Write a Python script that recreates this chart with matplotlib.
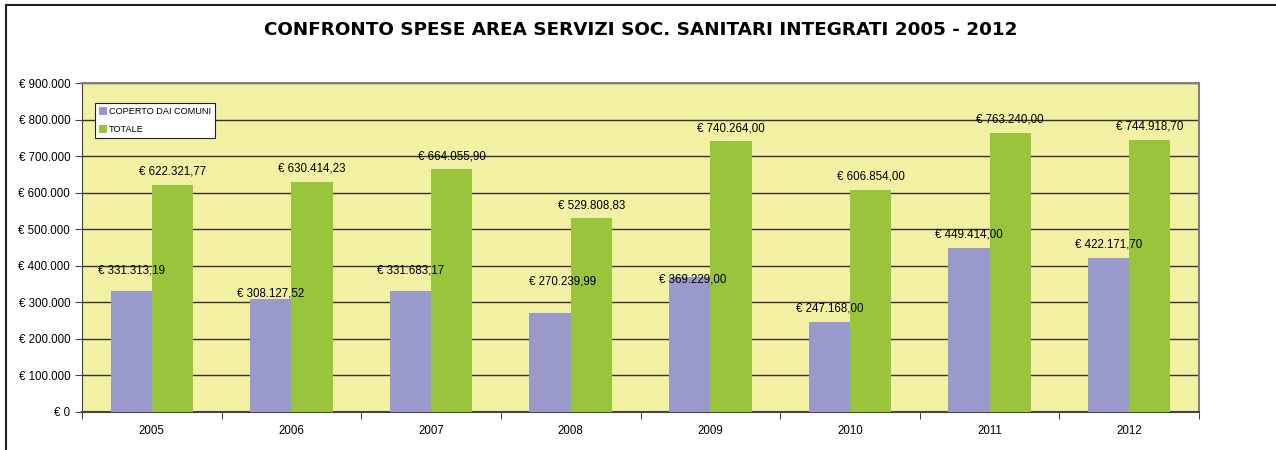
import numpy as np
import matplotlib.pyplot as plt
from matplotlib.ticker import FuncFormatter, FixedLocator

years = ['2005', '2006', '2007', '2008', '2009', '2010', '2011', '2012']
coperto = [331313.19, 308127.52, 331683.17, 270239.99, 369229.00, 247168.00, 449414.00, 422171.70]
totale = [622321.77, 630414.23, 664055.90, 529808.83, 740264.00, 606854.00, 763240.00, 744918.70]

# hand-placed label offsets (pixels above the bar top, horizontal nudge)
lab_dy_coperto = [20, 6, 20, 32, -2, 13, 13, 13]
lab_dx_coperto = [0, 0, 0, 12, 3, 0, 0, 0]
lab_dy_totale = [13, 13, 13, 13, 13, 14, 13, 13]


def euro(v, decimals=2):
    s = f'{v:,.{decimals}f}'
    s = s.replace(',', 'X').replace('.', ',').replace('X', '.')
    return '€ ' + s


plt.rcParams['font.family'] = ['Liberation Sans', 'DejaVu Sans']

fig = plt.figure(figsize=(12.76, 4.5), dpi=100)
# outer chart frame (left and top edges only visible)
fig.add_artist(plt.Line2D([6 / 1276, 6 / 1276], [0, 1 - 5 / 450], color='#222222', lw=1.5,
                          transform=fig.transFigure))
fig.add_artist(plt.Line2D([6 / 1276, 1], [1 - 5 / 450, 1 - 5 / 450], color='#222222', lw=1.5,
                          transform=fig.transFigure))

ax = fig.add_axes([82 / 1276, 1 - 412 / 450, (1199 - 82) / 1276, (412 - 83) / 450])
ax.set_facecolor('#F2F0A2')

x = np.arange(len(years))
w = 0.295
b1 = ax.bar(x - w / 2, coperto, w, color='#9999CC', label='COPERTO DAI COMUNI', zorder=3)
b2 = ax.bar(x + w / 2, totale, w, color='#99C43C', label='TOTALE', zorder=3)

px = 72 / fig.dpi
for rect, v, dy, dx in zip(b1, coperto, lab_dy_coperto, lab_dx_coperto):
    ax.annotate(euro(v), (rect.get_x() + rect.get_width() / 2, v), xytext=(dx * px, dy * px),
                textcoords='offset points', ha='center', va='center', fontsize=8.3, zorder=4)
for rect, v, dy in zip(b2, totale, lab_dy_totale):
    ax.annotate(euro(v), (rect.get_x() + rect.get_width() / 2, v), xytext=(0, dy * px),
                textcoords='offset points', ha='center', va='center', fontsize=8.3, zorder=4)

ax.set_xlim(-0.5, len(years) - 0.5)
ax.set_ylim(0, 900000)
ax.yaxis.set_major_locator(FixedLocator(np.arange(0, 900001, 100000)))
ax.yaxis.set_major_formatter(FuncFormatter(lambda v, p: euro(v, 0)))
ax.grid(axis='y', color='#333333', lw=1, zorder=1)

ax.set_xticks(x)
ax.set_xticklabels(years)
ax.set_xticks(np.arange(-0.5, len(years), 1), minor=True)
ax.tick_params(axis='x', which='major', length=0, pad=9, labelsize=8.3)
ax.tick_params(axis='x', which='minor', length=5, color='#222222')
ax.tick_params(axis='y', length=5, labelsize=8.3, color='#444444')

for side in ['top', 'right']:
    ax.spines[side].set_color('#808080')
    ax.spines[side].set_linewidth(1.5)
ax.spines['left'].set_color('#444444')
ax.spines['bottom'].set_color('#444444')
ax.spines['bottom'].set_linewidth(1.5)

leg = ax.legend(loc='upper left', bbox_to_anchor=(13 / 1117, 1 - 20 / 329), fontsize=6.6,
                frameon=True, fancybox=False, edgecolor='#222222', framealpha=1,
                handlelength=0.9, handleheight=0.9, handletextpad=0.2, borderpad=0.45,
                labelspacing=1.0, borderaxespad=0)
leg.get_frame().set_linewidth(0.8)

fig.text(0.502, 1 - 30 / 450, 'CONFRONTO SPESE AREA SERVIZI SOC. SANITARI INTEGRATI 2005 - 2012',
         ha='center', va='center', fontsize=13.2, fontweight='bold', family='DejaVu Sans')

fig.savefig('out.png', dpi=100)
